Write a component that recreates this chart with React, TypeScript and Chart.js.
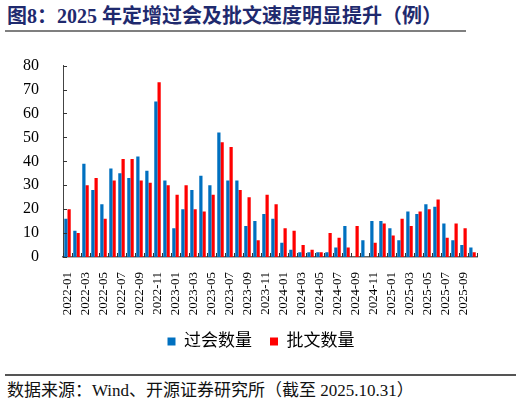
import { useEffect, useRef } from "react";
import { Chart, registerables, type ChartOptions, type Plugin } from "chart.js";

Chart.register(...registerables);

// 2022-01 .. 2025-10
const months = [
	"2022-01", "2022-02", "2022-03", "2022-04", "2022-05", "2022-06", "2022-07", "2022-08", "2022-09", "2022-10", "2022-11", "2022-12",
	"2023-01", "2023-02", "2023-03", "2023-04", "2023-05", "2023-06", "2023-07", "2023-08", "2023-09", "2023-10", "2023-11", "2023-12",
	"2024-01", "2024-02", "2024-03", "2024-04", "2024-05", "2024-06", "2024-07", "2024-08", "2024-09", "2024-10", "2024-11", "2024-12",
	"2025-01", "2025-02", "2025-03", "2025-04", "2025-05", "2025-06", "2025-07", "2025-08", "2025-09", "2025-10",
];

// 过会数量
const passedCounts = [
	16, 11, 39, 28, 22, 37, 35, 33, 42, 36, 65, 32,
	12, 20, 28, 34, 30, 52, 32, 32, 13, 15, 18, 16,
	6, 3, 2, 2, 2, 2, 4, 13, 0, 7, 15, 15,
	12, 7, 19, 18, 22, 21, 14, 7, 5, 4,
];

// 批文数量
const approvalCounts = [
	20, 10, 30, 33, 16, 32, 41, 41, 32, 31, 73, 30,
	26, 30, 20, 19, 26, 48, 46, 28, 25, 7, 26, 22,
	12, 11, 5, 3, 2, 10, 8, 4, 13, 0, 6, 14,
	9, 16, 13, 19, 20, 24, 8, 14, 12, 2,
];

const yMax = 80;
const yStep = 10;

const serif = '"Liberation Serif", "Times New Roman", "Noto Sans CJK SC", serif';

// small tick marks pointing into the plot area
const innerTicks: Plugin<"bar"> = {
	id: "innerTicks",
	afterDatasetsDraw(chart) {
		const { ctx } = chart;
		const x = chart.scales.x;
		const y = chart.scales.y;
		ctx.save();
		ctx.strokeStyle = "#333";
		ctx.lineWidth = 1;
		ctx.beginPath();
		y.ticks.forEach((t) => {
			const py = Math.round(y.getPixelForValue(t.value)) + 0.5;
			ctx.moveTo(y.right, py);
			ctx.lineTo(y.right + 4, py);
		});
		const half = (x.getPixelForValue(1) - x.getPixelForValue(0)) / 2;
		for (let i = 0; i <= months.length; i++) {
			const px = Math.round(x.getPixelForValue(i) - half) + 0.5;
			ctx.moveTo(px, x.top);
			ctx.lineTo(px, x.top - 4);
		}
		ctx.stroke();
		ctx.restore();
	},
};

const ChartBox = () => {
	const chartRef = useRef<HTMLCanvasElement | null>(null);
	const chartInstanceRef = useRef<Chart | null>(null);

	useEffect(() => {
		if (!chartRef.current) return;
		if (chartInstanceRef.current) chartInstanceRef.current.destroy();

		const options: ChartOptions<"bar"> = {
			responsive: true,
			maintainAspectRatio: false,
			animation: false,
			layout: { padding: { top: 19.5, left: 0, right: 0, bottom: 0 } },
			scales: {
				x: {
					grid: { display: false },
					border: { display: true, color: "#666", width: 1.5 },
					ticks: {
						autoSkip: false,
						maxRotation: 90,
						minRotation: 90,
						padding: 7,
						color: "#000",
						font: { family: serif, size: 13 },
						callback: (_v, i) => (i % 2 === 0 ? months[i] : ""),
					},
					afterFit: (scale) => {
						scale.height = 58;
					},
				},
				y: {
					min: 0,
					max: yMax,
					grid: { display: false },
					border: { display: true, color: "#444", width: 1 },
					ticks: {
						stepSize: yStep,
						padding: 16,
						color: "#000",
						font: { family: serif, size: 16 },
					},
					afterFit: (scale) => {
						scale.width = 63;
					},
				},
				// empty right-hand spacer so the plot ends where the reference does
				spacer: {
					type: "linear",
					position: "right",
					display: true,
					grid: { display: false },
					border: { display: false },
					ticks: { display: false },
					afterFit: (scale) => {
						scale.width = 45;
					},
				},
			},
			plugins: {
				legend: {
					display: true,
					position: "bottom",
					labels: {
						color: "#000",
						font: { family: serif, size: 17 },
						boxWidth: 8,
						boxHeight: 8,
						padding: 18,
					},
				},
				tooltip: { enabled: false },
			},
		};

		chartInstanceRef.current = new Chart(chartRef.current, {
			type: "bar",
			data: {
				labels: months,
				datasets: [
					{
						label: "过会数量",
						data: passedCounts,
						backgroundColor: "#0070C0",
						categoryPercentage: 0.72,
						barPercentage: 1,
					},
					{
						label: "批文数量",
						data: approvalCounts,
						backgroundColor: "#FF0000",
						categoryPercentage: 0.72,
						barPercentage: 1,
					},
				],
			},
			options,
			plugins: [innerTicks],
		});

		return () => {
			if (chartInstanceRef.current) {
				chartInstanceRef.current.destroy();
				chartInstanceRef.current = null;
			}
		};
	}, []);

	return (
		<div style={{ position: "absolute", left: 0, top: 40, width: 522, height: 320 }}>
			<canvas ref={chartRef} />
		</div>
	);
};

export default function App() {
	return (
		<div style={{ position: "absolute", left: 0, top: 0, width: 522, height: 405, background: "#fff", overflow: "hidden" }}>
			<div
				style={{
					position: "absolute",
					left: 7,
					top: 3,
					fontFamily: serif,
					fontWeight: "bold",
					fontSize: 20,
					lineHeight: "26px",
					color: "#1f2a6e",
					whiteSpace: "nowrap",
				}}
			>
				图8：2025 年定增过会及批文速度明显提升（例）
			</div>
			<div style={{ position: "absolute", left: 5, top: 30, width: 461, height: 2, background: "#7f7f7f" }} />
			<ChartBox />
			<div style={{ position: "absolute", left: 5, top: 374, width: 511, height: 1.5, background: "#555" }} />
			<div
				style={{
					position: "absolute",
					left: 7,
					top: 380,
					fontFamily: serif,
					fontSize: 17,
					lineHeight: "22px",
					color: "#111",
					whiteSpace: "nowrap",
				}}
			>
				数据来源：Wind、开源证券研究所（截至 2025.10.31）
			</div>
		</div>
	);
}
